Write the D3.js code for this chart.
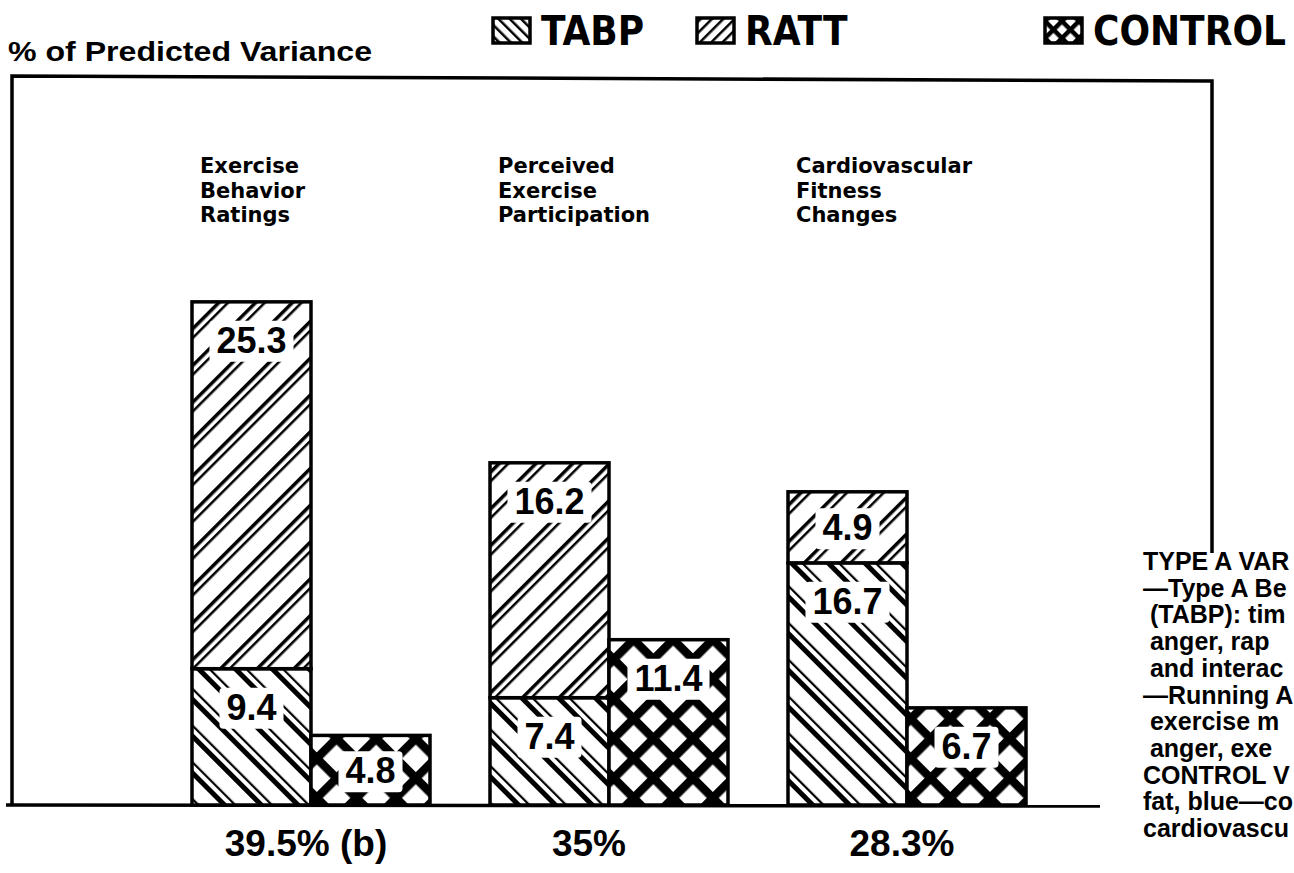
<!DOCTYPE html>
<html>
<head>
<meta charset="utf-8">
<script src="https://cdn.jsdelivr.net/npm/d3@7/dist/d3.min.js"></script>
<style>
  html, body { margin: 0; padding: 0; background: #fff; overflow: hidden; }
  svg { display: block; }
</style>
</head>
<body>
<svg id="chart" width="1294" height="873"></svg>
<script>
// ---------------- DATA ----------------
const categories = ["Exercise Behavior Ratings", "Perceived Exercise Participation", "Cardiovascular Fitness Changes"];
const categoryLines = [["Exercise", "Behavior", "Ratings"], ["Perceived", "Exercise", "Participation"], ["Cardiovascular", "Fitness", "Changes"]];
const seriesNames = ["TABP", "RATT", "CONTROL"];
const tabpValues = [9.4, 7.4, 16.7];
const rattValues = [25.3, 16.2, 4.9];
const controlValues = [4.8, 11.4, 6.7];
const totalLabels = ["39.5% (b)", "35%", "28.3%"];
const yAxisTitle = "% of Predicted Variance";
// side note as visible in the (cropped) original
const sideNotes = [
  "TYPE A VAR",
  "\u2014Type A Be",
  " (TABP): tim",
  " anger, rap",
  " and interac",
  "\u2014Running A",
  " exercise m",
  " anger, exe",
  "CONTROL V",
  "fat, blue\u2014co",
  "cardiovascu"
];

// ---------------- SETUP ----------------
const svg = d3.select("#chart");
const baseY = 805;
const sansBold = "'Liberation Sans', Arial, sans-serif";
const wideBold = "'DejaVu Sans', 'Liberation Sans', sans-serif";
const narrow = "'DejaVu Sans Condensed', 'Liberation Sans', sans-serif";

const x = d3.scaleBand().domain(categories).range([192, 1026]).paddingInner(60 / 298).paddingOuter(0);
const xi = d3.scaleBand().domain(["stack", "control"]).range([0, x.bandwidth()]);
const y = d3.scaleLinear().domain([0, 35]).range([baseY, baseY - 35 * 14.5]);

// ---------------- PATTERNS ----------------
const defs = svg.append("defs");
function linePattern(id, angle, size, lines) {
  const p = defs.append("pattern").attr("id", id)
    .attr("patternUnits", "userSpaceOnUse")
    .attr("width", size).attr("height", size)
    .attr("patternTransform", `rotate(${angle})`);
  p.append("rect").attr("width", size).attr("height", size).attr("fill", "#fff");
  lines.forEach(l => {
    p.append("rect").attr("x", l[0]).attr("y", 0).attr("width", l[1]).attr("height", size).attr("fill", "#000");
  });
  return p;
}
linePattern("pTABP", -45, 26, [[3, 5], [12, 2.2]]);
linePattern("pRATT", 45, 26, [[3, 3.5], [10, 2.5]]);
linePattern("pTABPsmall", -45, 8, [[2, 2.5]]);
linePattern("pRATTsmall", 45, 8, [[2, 2.5]]);
(function () {
  const size = 28;
  const p = defs.append("pattern").attr("id", "pCONTROL")
    .attr("patternUnits", "userSpaceOnUse")
    .attr("width", size).attr("height", size)
    .attr("patternTransform", "rotate(45)");
  p.append("rect").attr("width", size).attr("height", size).attr("fill", "#fff");
  p.append("rect").attr("x", 0).attr("y", 0).attr("width", 8.5).attr("height", size).attr("fill", "#000");
  p.append("rect").attr("x", 0).attr("y", 0).attr("width", size).attr("height", 8.5).attr("fill", "#000");
  const q = defs.append("pattern").attr("id", "pCONTROLsmall")
    .attr("patternUnits", "userSpaceOnUse")
    .attr("width", 12).attr("height", 12)
    .attr("patternTransform", "rotate(45)");
  q.append("rect").attr("width", 12).attr("height", 12).attr("fill", "#fff");
  q.append("rect").attr("width", 4.5).attr("height", 12).attr("fill", "#000");
  q.append("rect").attr("width", 12).attr("height", 4.5).attr("fill", "#000");
})();
const fills = { TABP: "url(#pTABP)", RATT: "url(#pRATT)", CONTROL: "url(#pCONTROL)" };
const smallFills = { TABP: "url(#pTABPsmall)", RATT: "url(#pRATTsmall)", CONTROL: "url(#pCONTROLsmall)" };

// ---------------- FRAME ----------------
const frame = svg.append("g").attr("fill", "none").attr("stroke", "#000").attr("stroke-width", 3.5);
frame.append("path").attr("d", `M12,${baseY} L12,76 L1212,81 L1212,553`);
frame.append("line").attr("x1", 6).attr("x2", 1100).attr("y1", baseY).attr("y2", baseY + 1);

// ---------------- TITLE + LEGEND ----------------
svg.append("text").attr("x", 8).attr("y", 61)
  .attr("font-family", sansBold).attr("font-weight", "bold").attr("font-size", 28)
  .attr("textLength", 364).attr("lengthAdjust", "spacingAndGlyphs")
  .text(yAxisTitle);

const legendX = { TABP: 493, RATT: 697, CONTROL: 1045 };
const legend = svg.append("g").selectAll("g").data(seriesNames).join("g")
  .attr("transform", d => `translate(${legendX[d]},18)`);
legend.append("rect").attr("width", 37).attr("height", 25)
  .attr("fill", d => smallFills[d]).attr("stroke", "#000").attr("stroke-width", 3.5);
legend.append("text").attr("x", 48).attr("y", 27)
  .attr("font-family", narrow).attr("font-weight", "bold").attr("font-size", 40)
  .text(d => d);

// ---------------- CATEGORY LABELS ----------------
const catG = svg.append("g").selectAll("g").data(categories).join("g");
catG.selectAll("text").data((d, i) => categoryLines[i].map(t => ({ t, cat: d }))).join("text")
  .attr("x", d => x(d.cat) + 8)
  .attr("y", (d, i) => 173 + i * 24.5)
  .attr("font-family", wideBold).attr("font-weight", "bold").attr("font-size", 21)
  .text(d => d.t);

// ---------------- BARS ----------------
const segments = [];
categories.forEach((c, i) => {
  segments.push({ cat: c, series: "TABP", sub: "stack", y0: 0, y1: tabpValues[i], v: tabpValues[i] });
  segments.push({ cat: c, series: "RATT", sub: "stack", y0: tabpValues[i], y1: tabpValues[i] + rattValues[i], v: rattValues[i] });
  segments.push({ cat: c, series: "CONTROL", sub: "control", y0: 0, y1: controlValues[i], v: controlValues[i] });
});

const bars = svg.append("g");
bars.selectAll("rect").data(segments).join("rect")
  .attr("x", d => x(d.cat) + xi(d.sub))
  .attr("width", xi.bandwidth())
  .attr("y", d => y(d.y1))
  .attr("height", d => y(d.y0) - y(d.y1))
  .attr("fill", d => fills[d.series])
  .attr("stroke", "#000").attr("stroke-width", 3.5);

// value labels with white knock-out
const lab = svg.append("g").selectAll("g").data(segments).join("g")
  .attr("transform", d => `translate(${x(d.cat) + xi(d.sub) + xi.bandwidth() / 2},${Math.min(y(d.y1) + 38, (y(d.y1) + y(d.y0)) / 2)})`);
lab.append("rect").attr("fill", "#fff").attr("rx", 4);
lab.append("text")
  .attr("text-anchor", "middle").attr("dy", "0.36em")
  .attr("font-family", sansBold).attr("font-weight", "bold").attr("font-size", 36)
  .text(d => d.v.toFixed(1));
lab.each(function () {
  const g = d3.select(this);
  const bb = g.select("text").node().getBBox();
  g.select("rect").attr("x", bb.x - 7).attr("y", bb.y + 1).attr("width", bb.width + 14).attr("height", bb.height);
});

// ---------------- TOTALS ----------------
svg.append("g").selectAll("text").data(categories).join("text")
  .attr("x", (d, i) => x(d) + x.bandwidth() / 2 - (i === 1 ? 20 : 5))
  .attr("y", 856)
  .attr("text-anchor", "middle")
  .attr("font-family", sansBold).attr("font-weight", "bold").attr("font-size", 37)
  .text((d, i) => totalLabels[i]);

// ---------------- SIDE NOTES ----------------
svg.append("g").selectAll("text").data(sideNotes).join("text")
  .attr("x", 1143)
  .attr("y", (d, i) => 570 + i * 26.7)
  .attr("font-family", sansBold).attr("font-weight", "bold").attr("font-size", 25)
  .attr("xml:space", "preserve")
  .style("white-space", "pre")
  .text(d => d);
</script>
</body>
</html>
